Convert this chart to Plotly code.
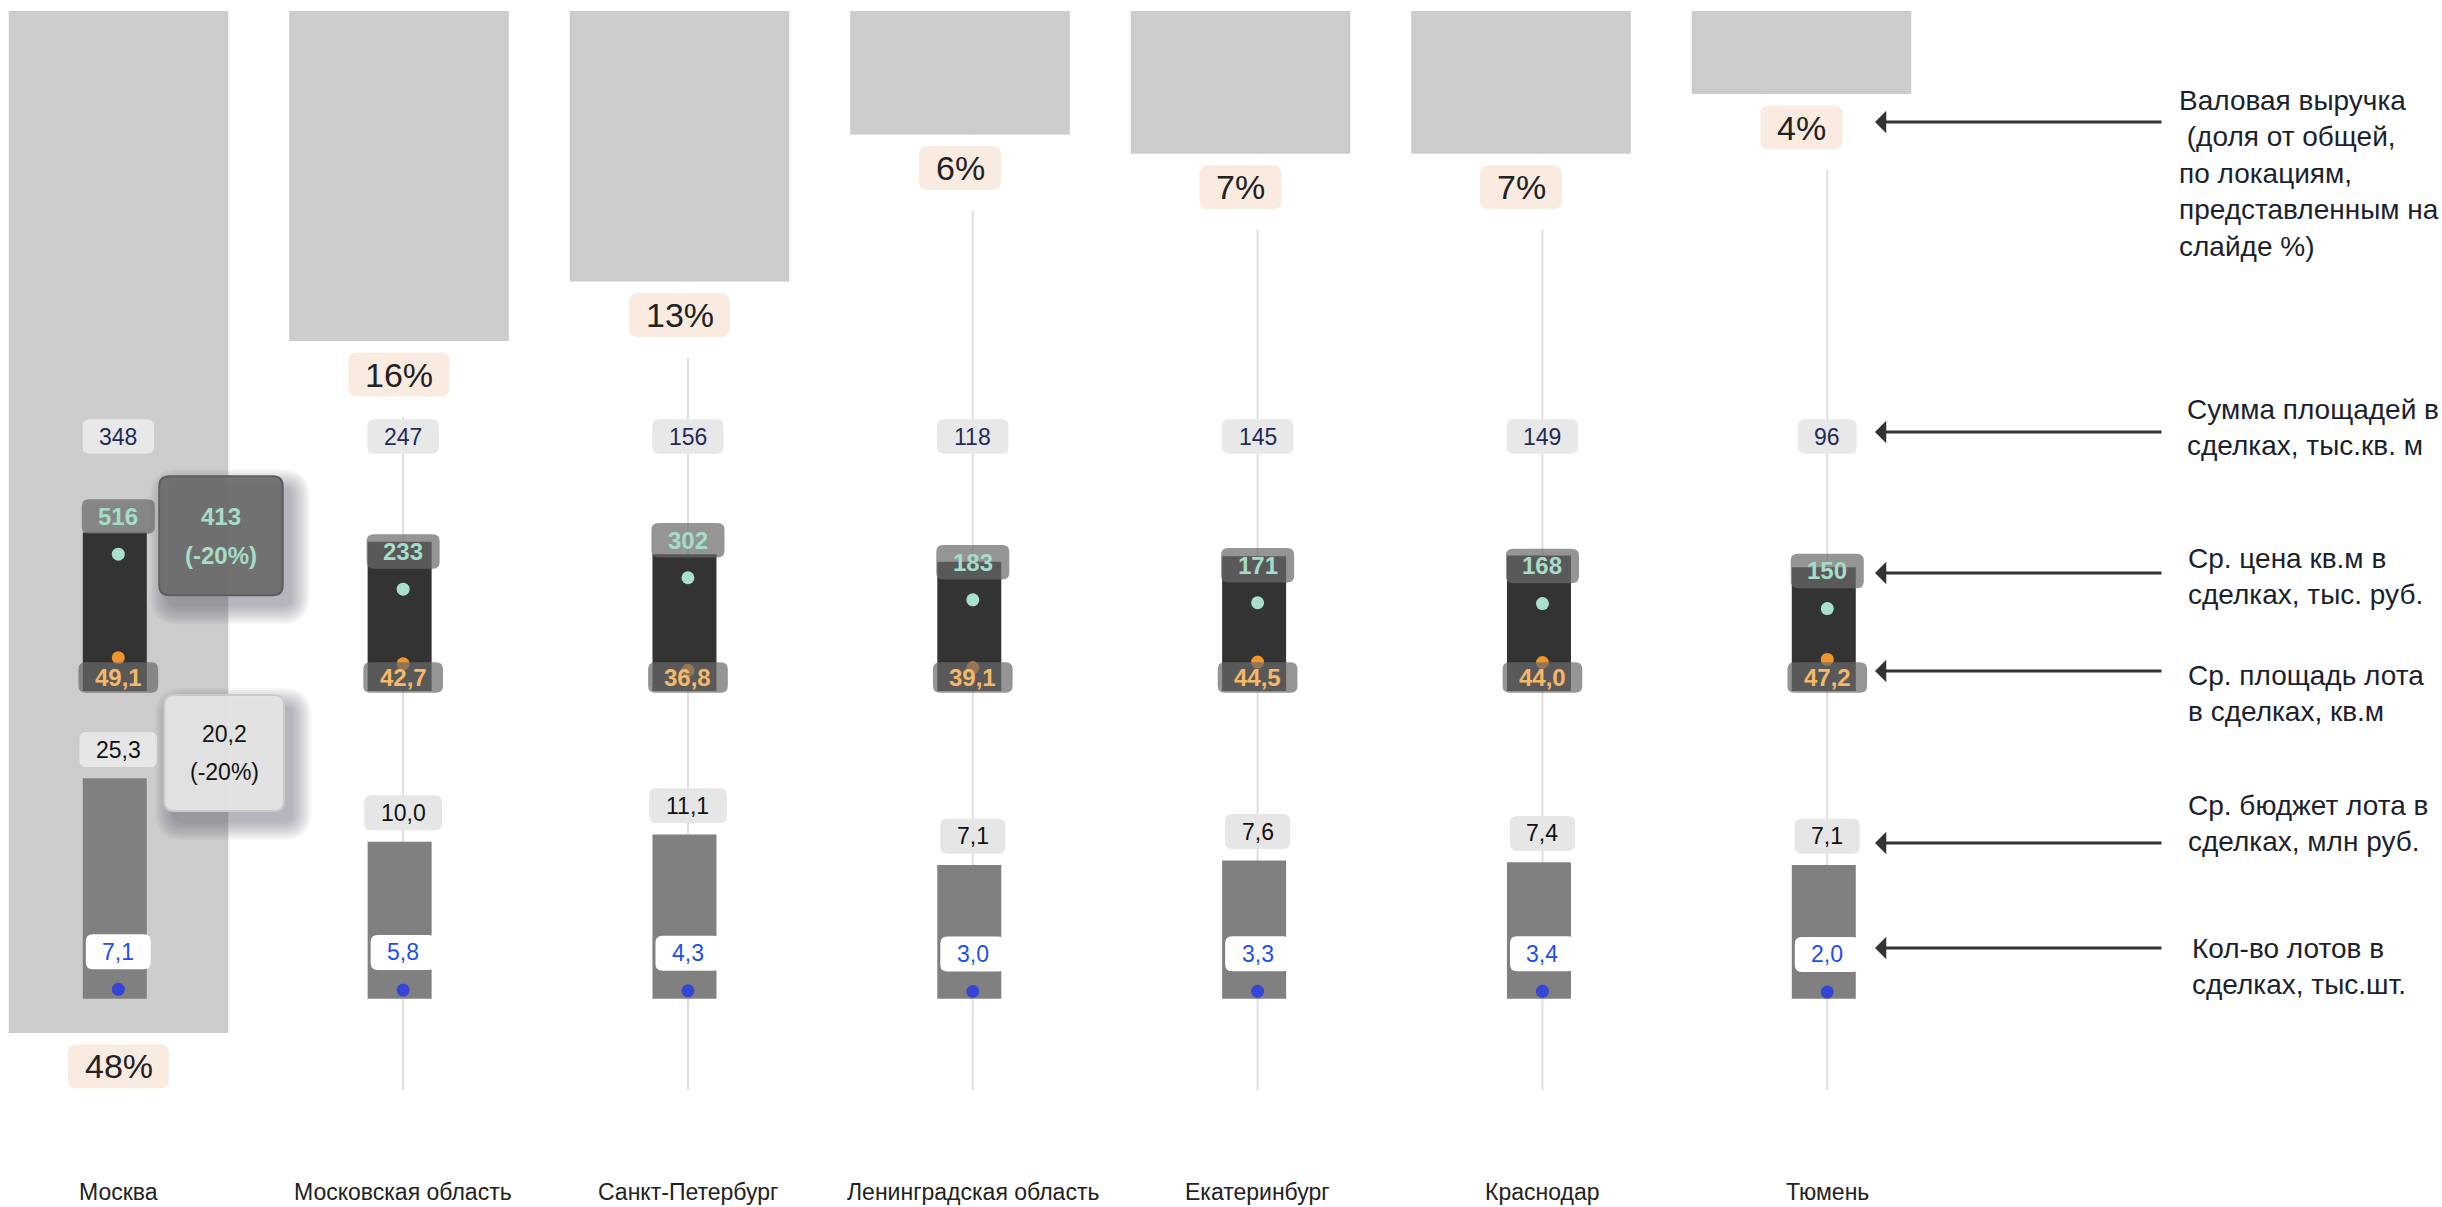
import math
import plotly.graph_objects as go

W, H = 2442, 1207
FONT = "Liberation Sans, Arial, Helvetica, sans-serif"

# ---------------- data ----------------
cities = ["Москва", "Московская область", "Санкт-Петербург", "Ленинградская область",
          "Екатеринбург", "Краснодар", "Тюмень"]
revenue_share = [48.0, 15.5, 12.7, 5.8, 6.7, 6.7, 3.9]      # доля валовой выручки, %
area_total = [348, 247, 156, 118, 145, 149, 96]             # сумма площадей, тыс. кв. м
price_sqm = [516, 233, 302, 183, 171, 168, 150]             # ср. цена кв. м, тыс. руб.
lot_area = [49.1, 42.7, 36.8, 39.1, 44.5, 44.0, 47.2]       # ср. площадь лота, кв. м
lot_budget = [25.3, 10.0, 11.1, 7.1, 7.6, 7.4, 7.1]         # ср. бюджет лота, млн руб.
lot_count = [7.1, 5.8, 4.3, 3.0, 3.3, 3.4, 2.0]             # кол-во лотов, тыс. шт.

moscow_price_alt = 413
moscow_budget_alt = 20.2
moscow_alt_change = -20

legend_texts = [
    "Валовая выручка<br>\u00a0(доля от общей,<br>по локациям,<br>представленным на<br>слайде %)",
    "Сумма площадей в<br>сделках, тыс.кв. м",
    "Ср. цена кв.м в<br>сделках, тыс. руб.",
    "Ср. площадь лота<br>в сделках, кв.м",
    "Ср. бюджет лота в<br>сделках, млн руб.",
    "Кол-во лотов в<br>сделках, тыс.шт.",
]

# ---------------- layout geometry (pixels) ----------------
COL_X0, COL_STEP = 118.3, 284.83
REV_X0, REV_STEP = 118.5, 280.5
REV_TOP, REV_PX = 11.0, 21.29
AREA_BASE, AREA_PX = 691.0, 27.1
DOT_BASE, DOT_PX = 829.0, 44.0
BUD_BASE, BUD_PX = 998.7, 68.2
LOT_BASE, LOT_PX = 993.1, 0.53


def x_range(x0, step):
    return [-x0 / step, (W - x0) / step]


def lin_down_range(top_px, px_per):
    return [(H - top_px) / px_per, -top_px / px_per]


def log_range(base_px, px_per_ln):
    s = px_per_ln * math.log(10)
    return [-(H - base_px) / s, base_px / s]


def lin_up_range(base_px, px_per):
    return [-(H - base_px) / px_per, base_px / px_per]


def fmt1(v):
    return f"{v:.1f}".replace(".", ",")


def fmt_pct(v):
    return f"{int(math.floor(v + 0.5))}%"


CW = {c: 0.556 for c in "0123456789"}
CW.update({",": 0.278, ".": 0.278, "%": 0.889, "(": 0.333, ")": 0.333, "-": 0.333, " ": 0.278})


def text_w(t, size):
    return sum(CW.get(c, 0.556) for c in t) * size


def rpath(cx, cy, w, h, r):
    x0, x1 = cx - w / 2, cx + w / 2
    y0, y1 = cy - h / 2, cy + h / 2
    return (f"M{x0 + r},{y0} L{x1 - r},{y0} Q{x1},{y0} {x1},{y0 + r} L{x1},{y1 - r} "
            f"Q{x1},{y1} {x1 - r},{y1} L{x0 + r},{y1} Q{x0},{y1} {x0},{y1 - r} "
            f"L{x0},{y0 + r} Q{x0},{y0} {x0 + r},{y0} Z")


shapes = []
annotations = []


def box(xref, x, yref, y, dx, dy, w, h, r, fill, border=None, layer="above"):
    shapes.append(dict(type="path", path=rpath(dx, dy, w, h, r), xref=xref, yref=yref,
                       xsizemode="pixel", ysizemode="pixel", xanchor=x, yanchor=y,
                       fillcolor=fill,
                       line=dict(width=0) if border is None else dict(color=border, width=2),
                       layer=layer))


def text(xref, x, yref, y, dx, dy, t, size, color, bold=False):
    annotations.append(dict(xref=xref, yref=yref, x=x, y=y, xshift=dx, yshift=dy,
                            text=f"<b>{t}</b>" if bold else t, showarrow=False,
                            font=dict(family=FONT, size=size, color=color),
                            xanchor="center", yanchor="middle"))


def label(xref, x, yref, y, t, size, color, fill, h, r, dy, dx=0, bold=False,
          logy=False, pad=16.5):
    w = text_w(t, size) + 2 * pad
    box(xref, x, yref, y, dx, dy, w, h, r, fill)
    text(xref, x, yref, math.log10(y) if logy else y, dx, dy, t, size, color, bold)


idx = list(range(len(cities)))
BAR_W = 64 / COL_STEP
BAR_OFF = (-32 - 3.5) / COL_STEP
REV_W = 219.5 / REV_STEP

fig = go.Figure()
# revenue share bars (main subplot x/y, drawn first)
fig.add_trace(go.Bar(x=idx, y=revenue_share, xaxis="x", yaxis="y", width=REV_W,
                     marker=dict(color="#CCCCCC", line=dict(width=0)), hoverinfo="skip"))
# column metrics (x2 = column centres)
fig.add_trace(go.Bar(x=idx, y=[v - 1 for v in area_total], base=[1] * len(idx),
                     xaxis="x2", yaxis="y2", width=BAR_W, offset=BAR_OFF,
                     marker=dict(color="#333333", line=dict(width=0)), hoverinfo="skip"))
fig.add_trace(go.Bar(x=idx, y=[v - 1 for v in lot_budget], base=[1] * len(idx),
                     xaxis="x2", yaxis="y4", width=BAR_W, offset=BAR_OFF,
                     marker=dict(color="#808080", line=dict(width=0)), hoverinfo="skip"))
fig.add_trace(go.Scatter(x=idx, y=price_sqm, xaxis="x2", yaxis="y3", mode="markers",
                         marker=dict(size=13, color="#A8E0CB", line=dict(width=0)),
                         hoverinfo="skip"))
fig.add_trace(go.Scatter(x=idx, y=lot_area, xaxis="x2", yaxis="y3", mode="markers",
                         marker=dict(size=13, color="#F2962C", line=dict(width=0)),
                         hoverinfo="skip"))
fig.add_trace(go.Scatter(x=idx, y=lot_count, xaxis="x2", yaxis="y5", mode="markers",
                         marker=dict(size=13, color="#3545D6", line=dict(width=0)),
                         hoverinfo="skip"))

# guide lines and white masks under revenue labels
for i in idx:
    shapes.append(dict(type="line", xref="x2", x0=i, x1=i, yref="paper",
                       y0=(H - 1090) / H, y1=(H - 20) / H,
                       line=dict(color="#DEDEDE", width=2), layer="below"))
for i, v in zip(idx, revenue_share):
    shapes.append(dict(type="rect", xref="x", xsizemode="pixel", xanchor=i, x0=-50, x1=50,
                       yref="y", ysizemode="pixel", yanchor=v, y0=0, y1=-76,
                       fillcolor="white", line=dict(width=0), layer="below"))

SUM_Y = 1 - 436.5 / H
for i in idx:
    # revenue share
    label("x", i, "y", revenue_share[i], fmt_pct(revenue_share[i]), 34, "#222222",
          "#FAEBE1", 44, 9, -33.5)
    # total area
    label("x2", i, "paper", SUM_Y, str(area_total[i]), 23, "#1F2B5B", "#E8E8E8", 34.5, 7, 0)
    # price per sqm
    label("x2", i, "y3", price_sqm[i], str(price_sqm[i]), 24, "#A5DDC8",
          "rgba(106,106,106,0.71)", 34.5, 7, 37.6, bold=True, logy=True)
    # avg lot area (at the bar base)
    label("x2", i, "y2", 1, fmt1(lot_area[i]), 24, "#F5B869",
          "rgba(106,106,106,0.71)", 30.5, 7, 13.5, bold=True, logy=True)
    # budget
    label("x2", i, "y4", lot_budget[i], fmt1(lot_budget[i]), 23, "#111111", "#E6E6E6",
          35, 7, 28.8, logy=True)
    # lot count
    label("x2", i, "y5", lot_count[i], fmt1(lot_count[i]), 23, "#1E4EF0", "#FFFFFF",
          35, 7, 37.6)
    # city
    annotations.append(dict(xref="x2", x=i, yref="paper", y=1 - 1192 / H, text=cities[i],
                            showarrow=False, font=dict(family=FONT, size=23, color="#222222"),
                            xanchor="center", yanchor="middle"))


# Moscow callouts with soft shadow
def callout(yref, y, dx, dy, w, h, fill, border, lines, size, color, bold, gap):
    for k in range(10):
        e = 2 * k
        box("x2", 0, yref, y, dx + 9, dy - 11, w + 2 * e, h + 2 * e, 10 + e,
            "rgba(85,90,105,0.055)")
    box("x2", 0, yref, y, dx, dy, w, h, 10, fill, border)
    for j, t in enumerate(lines):
        text("x2", 0, yref, math.log10(y), dx, dy + gap * (1 if j == 0 else -1), t, size,
             color, bold)


callout("y3", price_sqm[0], 102.7, 18.5, 123.4, 119, "rgba(107,107,107,0.92)", "#5E5E5E",
        [str(moscow_price_alt), f"({moscow_alt_change}%)"], 24, "#A5DDC8", True, 19.5)
callout("y4", lot_budget[0], 105.9, 25.3, 119.7, 116, "rgba(227,227,227,0.97)", "#CACACA",
        [fmt1(moscow_budget_alt), f"({moscow_alt_change}%)"], 23, "#111111", False, 18.8)

# legend texts and arrows
legend_pos = [(2177, 173.5), (2185, 427.5), (2186, 576), (2186, 693), (2186, 823), (2190, 967)]
arrow_y = [122, 432, 573, 671, 843, 948]
for (lx, ly), t in zip(legend_pos, legend_texts):
    annotations.append(dict(xref="paper", yref="paper", x=lx / W, y=1 - ly / H, text=t,
                            showarrow=False, align="left", xanchor="left", yanchor="middle",
                            font=dict(family=FONT, size=28, color="#1B1F2E")))
for ay in arrow_y:
    annotations.append(dict(xref="paper", yref="paper", x=1875 / W, y=1 - ay / H, text="",
                            showarrow=True, ax=288, ay=0, axref="pixel", ayref="pixel",
                            arrowhead=1, arrowsize=1.25, arrowwidth=3, arrowcolor="#333333",
                            standoff=0, startstandoff=0))

ax_common = dict(visible=False, fixedrange=True, showgrid=False, zeroline=False)
fig.update_layout(
    width=W, height=H, autosize=False,
    margin=dict(l=0, r=0, t=0, b=0, pad=0),
    paper_bgcolor="white", plot_bgcolor="rgba(0,0,0,0)",
    showlegend=False, barmode="overlay",
    xaxis=dict(range=x_range(REV_X0, REV_STEP), domain=[0, 1], anchor="y", **ax_common),
    xaxis2=dict(range=x_range(COL_X0, COL_STEP), overlaying="x", anchor="y", **ax_common),
    yaxis=dict(range=lin_down_range(REV_TOP, REV_PX), domain=[0, 1], anchor="x", **ax_common),
    yaxis2=dict(type="log", range=log_range(AREA_BASE, AREA_PX), overlaying="y", anchor="x",
                **ax_common),
    yaxis3=dict(type="log", range=log_range(DOT_BASE, DOT_PX), overlaying="y", anchor="x",
                **ax_common),
    yaxis4=dict(type="log", range=log_range(BUD_BASE, BUD_PX), overlaying="y", anchor="x",
                **ax_common),
    yaxis5=dict(range=lin_up_range(LOT_BASE, LOT_PX), overlaying="y", anchor="x",
                **ax_common),
    shapes=shapes,
    annotations=annotations,
)

fig.write_html("out.html", config=dict(displayModeBar=False, staticPlot=True),
               post_script="document.body.style.margin='0';document.body.style.overflow='hidden';")
